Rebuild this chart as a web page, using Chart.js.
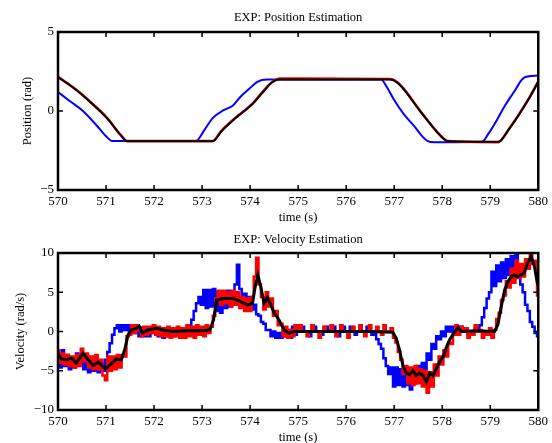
<!DOCTYPE html>
<html>
<head>
<meta charset="utf-8">
<script src="https://cdn.jsdelivr.net/npm/chart.js@4.4.1/dist/chart.umd.min.js"></script>
<style>
  html, body { margin: 0; padding: 0; background: #fff; overflow: hidden; }
  #wrap { position: relative; width: 552px; height: 443px; }
  canvas { position: absolute; left: 0; }
</style>
</head>
<body>
<div id="wrap">
  <canvas id="posChart" width="552" height="226" style="top:0"></canvas>
  <canvas id="velChart" width="552" height="222" style="top:226px"></canvas>
</div>
<script>
// ---- data ----
const xTicks = [570, 571, 572, 573, 574, 575, 576, 577, 578, 579, 580];
const posTicks = [-5, 0, 5];
const velTicks = [-10, -5, 0, 5, 10];

// position (rad): [time, value]
const posBlue = [
  [570.0, 1.2], [570.25, 0.62], [570.52, 0.0], [570.8, -0.9], [571.0, -1.6], [571.13, -1.9],
  [572.87, -1.9], [573.05, -1.2], [573.22, -0.45], [573.45, 0.05], [573.65, 0.37], [573.8, 0.9],
  [574.0, 1.45], [574.15, 1.85], [574.35, 2.0], [576.73, 2.0], [576.85, 1.5], [577.0, 0.7],
  [577.2, -0.2], [577.43, -1.0], [577.6, -1.65], [577.7, -1.9], [577.84, -1.98], [578.83, -1.95],
  [578.95, -1.5], [579.1, -0.78], [579.3, 0.3], [579.52, 1.33], [579.65, 1.95], [579.73, 2.15], [580.0, 2.25]
];
const posRed = [
  [570.0, 2.17], [570.38, 1.35], [570.66, 0.62], [571.02, -0.43], [571.3, -1.5], [571.44, -1.9],
  [573.22, -1.9], [573.4, -1.25], [573.65, -0.55], [574.06, 0.5], [574.27, 1.25], [574.45, 1.8],
  [574.62, 2.05], [576.9, 2.03], [577.0, 1.95], [577.15, 1.57], [577.57, -0.1], [577.98, -1.6],
  [578.12, -1.9], [579.17, -1.97], [579.38, -1.18], [579.79, 0.72], [580.0, 1.87]
];
const posBlack = [
  [570.0, 2.15], [570.38, 1.33], [570.66, 0.6], [571.02, -0.45], [571.3, -1.5], [571.44, -1.92],
  [573.22, -1.92], [573.4, -1.3], [573.65, -0.57], [574.06, 0.48], [574.27, 1.2], [574.45, 1.8],
  [574.6, 2.0], [576.9, 2.0], [577.0, 1.92], [577.15, 1.55], [577.57, -0.13], [577.98, -1.62],
  [578.12, -1.92], [579.17, -1.95], [579.38, -1.2], [579.79, 0.7], [580.0, 1.85]
];

// velocity (rad/s): noisy estimates sampled every 0.05 s from 570 s
const velSampleStart = 570;
const velSampleStep = 0.05;
const velBlue = [
  -3.0, -4.6, -2.4, -4.4, -3.0, -4.8, -3.4, -4.6, -2.8, -4.2,
  -3.0, -4.8, -3.4, -5.2, -3.6, -5.0, -3.4, -5.2, -4.0, -5.0,
  -3.6, -2.6, -1.5, -0.4, 0.4, 0.8, 0.0, 0.8, 0.2, 0.8,
  0.0, 0.8, -0.2, 0.7, -0.6, 0.5, -0.6, 0.3, -0.6, 0.4,
  -0.2, 0.5, -0.6, 0.2, -0.8, 0.0, -0.6, 0.0, -0.6, -0.2,
  -0.4, 0.0, -0.6, 0.2, 0.0, 0.8, 1.5, 2.6, 3.6, 4.4,
  3.4, 5.3, 3.0, 5.3, 3.2, 5.4, 2.6, 5.0, 2.4, 4.6,
  3.0, 5.2, 3.2, 5.0, 6.0, 8.5, 5.4, 3.4, 4.8, 3.2,
  4.4, 2.8, 3.4, 2.2, 2.0, 1.2, 1.0, 0.2, 0.2, -0.6,
  0.0, -0.8, -0.2, -0.8, 0.0, -0.6, 0.2, -0.8, 0.6, -0.4,
  0.0, 0.0, 0.6, 0.0, 0.0, -0.6, 0.0, 0.6, 0.0, 0.0,
  -0.4, 0.0, 0.6, 0.0, 0.0, 0.6, 0.0, -0.6, 0.0, 0.6,
  0.0, 0.0, 0.6, 0.0, -0.4, 0.0, 0.6, 0.0, 0.0, 0.6,
  0.0, -0.4, 0.0, -1.0, -1.6, -2.2, -3.4, -4.4, -5.4, -4.6,
  -7.0, -4.6, -6.8, -4.8, -7.0, -4.6, -6.8, -7.4, -4.8, -6.6,
  -4.4, -5.8, -4.0, -4.8, -2.8, -3.6, -1.6, -2.2, -0.6, -1.0,
  0.0, -0.6, 0.6, 0.0, 0.6, -0.4, 0.6, 0.0, 0.6, 0.0,
  0.4, -0.4, 0.0, 0.0, 0.4, 0.2, 0.8, 1.8, 3.0, 4.2,
  5.0, 7.6, 5.8, 8.4, 6.4, 8.8, 6.8, 9.2, 7.2, 9.6,
  8.0, 10.0, 7.8, 6.0, 5.0, 3.4, 2.6, 1.2, 0.6, -0.2,
  -0.6
];
const velRed = [
  -2.4, -4.0, -2.8, -4.2, -3.0, -4.4, -3.2, -4.6, -3.0, -4.4,
  -2.2, -3.8, -2.8, -4.6, -3.2, -4.8, -3.0, -4.8, -3.6, -5.6,
  -6.2, -3.2, -5.0, -3.2, -4.8, -3.0, -4.6, -3.0, -3.2, -0.6,
  -0.4, 0.8, -0.2, 0.8, 0.2, -0.6, 0.6, -0.4, 0.6, -0.2,
  0.8, -0.4, 0.6, -0.6, 0.4, -0.6, 0.6, -0.8, 0.4, -0.6,
  0.6, -0.8, 0.4, -0.8, 0.8, -0.6, 0.6, -0.8, 0.8, -0.4,
  0.6, -0.6, 0.8, -0.2, 0.6, 2.0, 4.2, 5.2, 3.4, 5.2,
  3.6, 5.0, 3.2, 5.2, 3.4, 5.0, 3.0, 4.4, 2.6, 4.2,
  2.6, 4.4, 7.0, 9.4, 6.0, 4.4, 2.8, 5.0, 3.2, 4.2,
  2.0, 2.6, 0.8, 1.0, -0.6, 0.6, -0.8, 0.2, -0.6, 0.8,
  0.0, 0.8, 0.0, 0.0, -0.6, 0.0, 0.8, 0.0, 0.0, -0.8,
  0.0, 0.6, 0.0, 0.0, 0.8, 0.0, -0.6, 0.0, 0.8, 0.0,
  0.0, -0.8, 0.0, 0.6, 0.0, 0.0, 0.8, 0.0, -0.6, 0.0,
  0.8, 0.0, 0.0, 0.6, 0.0, -0.4, 0.8, 0.0, 0.0, 0.4,
  -0.8, -1.4, -2.6, -3.6, -5.4, -4.4, -6.6, -4.6, -6.8, -4.4,
  -6.6, -4.8, -7.0, -5.0, -7.8, -5.2, -7.0, -4.2, -5.6, -3.2,
  -4.2, -2.4, -3.2, -1.4, -1.6, -0.4, 0.8, -0.4, 0.6, 0.0,
  0.4, -0.8, 0.0, -0.4, 0.8, 0.0, 0.2, -0.8, 0.0, -0.4,
  0.4, -0.8, 0.2, 1.6, 2.4, 4.0, 4.6, 6.4, 5.6, 8.0,
  6.2, 9.0, 6.8, 8.6, 7.0, 9.2, 8.0, 10.0, 8.6, 9.0,
  4.6
];
// filtered estimate (black): [time, value]
const velBlack = [
  [570.0, -2.8], [570.07, -3.5], [570.18, -3.6], [570.28, -3.4], [570.38, -4.0], [570.45, -3.4],
  [570.52, -2.8], [570.63, -3.6], [570.73, -4.3], [570.84, -3.9], [570.94, -4.5], [571.0, -4.7],
  [571.11, -4.1], [571.21, -3.5], [571.32, -3.6], [571.39, -2.3], [571.46, -0.4], [571.53, 0.2],
  [571.63, 0.4], [571.69, 0.7], [571.76, -0.2], [571.87, 0.2], [572.05, 0.4], [572.19, 0.2],
  [572.4, 0.0], [572.7, 0.1], [573.0, 0.1], [573.16, 0.2], [573.24, 1.5], [573.3, 4.0],
  [573.45, 4.2], [573.66, 4.2], [573.8, 3.8], [573.95, 3.4], [574.05, 3.6], [574.1, 5.5],
  [574.16, 7.2], [574.22, 5.8], [574.29, 3.6], [574.36, 4.3], [574.43, 3.4], [574.5, 2.4],
  [574.6, 1.5], [574.71, 0.2], [574.81, -0.2], [574.92, 0.0], [575.5, 0.0], [576.0, 0.0],
  [576.5, 0.0], [576.97, -0.1], [577.04, -0.8], [577.11, -2.3], [577.18, -4.3], [577.25, -5.3],
  [577.32, -5.5], [577.39, -5.0], [577.46, -5.6], [577.53, -5.3], [577.6, -5.6], [577.67, -6.4],
  [577.74, -5.3], [577.81, -5.6], [577.88, -4.7], [577.95, -3.8], [578.02, -3.2], [578.08, -2.1],
  [578.15, -1.1], [578.22, -0.4], [578.33, 0.5], [578.4, 0.0], [578.7, 0.1], [579.09, 0.0],
  [579.16, 0.9], [579.23, 3.2], [579.3, 5.3], [579.37, 6.4], [579.44, 7.0], [579.5, 7.2],
  [579.57, 7.0], [579.64, 7.2], [579.71, 7.5], [579.78, 8.7], [579.85, 9.6], [579.92, 8.3],
  [579.98, 6.2], [580.0, 5.8]
];

// ---- helpers ----
const FONT = "'Liberation Serif', 'Times New Roman', serif";
Chart.defaults.color = '#000';
Chart.defaults.font.family = FONT;

const pairs = arr => arr.map(p => ({ x: p[0], y: p[1] }));
const sampled = arr => arr.map((v, i) => ({ x: velSampleStart + i * velSampleStep, y: v }));
const minus = v => String(v).replace('-', '\u2212');

// MATLAB-like box with inward ticks on all four sides
const boxPlugin = {
  id: 'box',
  afterDraw(chart) {
    const { ctx, chartArea: a, scales } = chart;
    ctx.save();
    ctx.strokeStyle = '#000';
    ctx.lineWidth = 1.5;
    ctx.beginPath();
    scales.x.ticks.forEach(t => {
      const px = scales.x.getPixelForValue(t.value);
      ctx.moveTo(px, a.bottom); ctx.lineTo(px, a.bottom - 5);
      ctx.moveTo(px, a.top); ctx.lineTo(px, a.top + 5);
    });
    scales.y.ticks.forEach(t => {
      const py = scales.y.getPixelForValue(t.value);
      ctx.moveTo(a.left, py); ctx.lineTo(a.left + 5, py);
      ctx.moveTo(a.right, py); ctx.lineTo(a.right - 5, py);
    });
    ctx.stroke();
    ctx.lineWidth = 2.5;
    ctx.strokeRect(a.left, a.top, a.right - a.left, a.bottom - a.top);
    ctx.restore();
  }
};

function makeChart(id, cfg) {
  return new Chart(document.getElementById(id), {
    type: 'line',
    data: { datasets: cfg.datasets },
    options: {
      responsive: false,
      animation: false,
      events: [],
      layout: { padding: { left: 0, right: 13, top: 0, bottom: 0 } },
      elements: { point: { radius: 0 }, line: { tension: 0 } },
      plugins: {
        legend: { display: false },
        tooltip: { enabled: false },
        title: {
          display: true,
          text: cfg.title,
          fullSize: false,
          color: '#000',
          font: { family: FONT, size: 12.5, weight: 'normal' },
          padding: cfg.titlePad
        }
      },
      scales: {
        x: {
          type: 'linear',
          min: 570, max: 580,
          afterBuildTicks: s => { s.ticks = xTicks.map(v => ({ value: v })); },
          afterFit: s => { s.height = cfg.xHeight; },
          grid: { display: false, drawTicks: false },
          border: { display: false },
          ticks: { padding: 4, maxRotation: 0, autoSkip: false, font: { size: 13 }, callback: v => minus(v) },
          title: { display: true, text: 'time (s)', font: { size: 12.5 }, padding: { top: 0, bottom: cfg.xTitlePad } }
        },
        y: {
          min: cfg.yTicks[0], max: cfg.yTicks[cfg.yTicks.length - 1],
          afterBuildTicks: s => { s.ticks = cfg.yTicks.map(v => ({ value: v })); },
          afterFit: s => { s.width = 58; },
          grid: { display: false, drawTicks: false },
          border: { display: false },
          ticks: { padding: 4, autoSkip: false, font: { size: 13 }, callback: v => minus(v) },
          title: { display: true, text: cfg.yTitle, font: { size: 12.5 }, padding: { top: cfg.yTitlePad, bottom: 0 } }
        }
      }
    },
    plugins: [boxPlugin]
  });
}

makeChart('posChart', {
  title: 'EXP: Position Estimation',
  titlePad: { top: 10.5, bottom: 6.5 },
  xHeight: 36,
  xTitlePad: 0.5,
  yTicks: posTicks,
  yTitle: 'Position (rad)',
  yTitlePad: 20,
  datasets: [
    { data: pairs(posBlack), borderColor: '#000000', borderWidth: 2, order: 0, cubicInterpolationMode: 'monotone' },
    { data: pairs(posRed), borderColor: '#ff0000', borderWidth: 2.5, order: 1, cubicInterpolationMode: 'monotone' },
    { data: pairs(posBlue), borderColor: '#0000ff', borderWidth: 2, order: 2, cubicInterpolationMode: 'monotone' }
  ]
});

makeChart('velChart', {
  title: 'EXP: Velocity Estimation',
  titlePad: { top: 6, bottom: 6 },
  xHeight: 38,
  xTitlePad: 2.5,
  yTicks: velTicks,
  yTitle: 'Velocity (rad/s)',
  yTitlePad: 13,
  datasets: [
    { data: pairs(velBlack), borderColor: '#000000', borderWidth: 3, order: 0 },
    { data: sampled(velRed), borderColor: '#ff0000', borderWidth: 2.5, order: 1, stepped: 'middle' },
    { data: sampled(velBlue), borderColor: '#0000ff', borderWidth: 2.5, order: 2, stepped: 'middle' }
  ]
});
</script>
</body>
</html>
